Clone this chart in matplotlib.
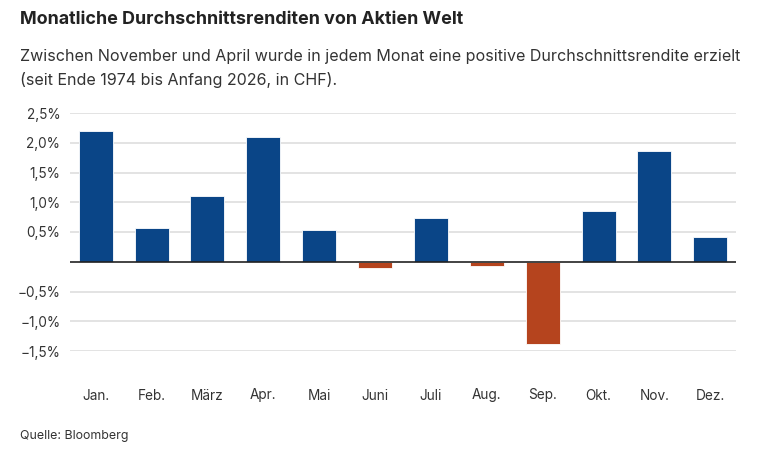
import matplotlib.pyplot as plt
from matplotlib.ticker import FuncFormatter

# ── Data: average monthly returns, Aktien Welt (CHF), in % ──
months = ["Jan.", "Feb.", "März", "Apr.", "Mai", "Juni",
          "Juli", "Aug.", "Sep.", "Okt.", "Nov.", "Dez."]
returns = [2.20, 0.57, 1.11, 2.10, 0.53, -0.10,
           0.74, -0.07, -1.38, 0.85, 1.86, 0.41]
y_ticks = [-1.5, -1.0, -0.5, 0.5, 1.0, 1.5, 2.0, 2.5]

BLUE = "#0A4587"
ORANGE = "#B5441E"
TEXT = "#333333"

plt.rcParams["font.family"] = ["Inter", "DejaVu Sans"]

fig = plt.figure(figsize=(7.6, 4.63), dpi=100)
ax = fig.add_axes([70 / 760, 1 - 351 / 463, 666 / 760, 238 / 463])

colours = [BLUE if r >= 0 else ORANGE for r in returns]
ax.bar(range(len(months)), returns, width=0.61, color=colours,
       edgecolor="white", linewidth=0.6, zorder=3)

# gridlines + zero line
for t in y_ticks:
    ax.axhline(t, color="#e0e0e0", linewidth=1.3, zorder=1)
ax.axhline(0, color="#222222", linewidth=1.2, zorder=4)

ax.set_xlim(-0.46, len(months) - 0.54)
ax.set_ylim(-1.5, 2.5)
ax.set_yticks(y_ticks)
ax.yaxis.set_major_formatter(
    FuncFormatter(lambda v, _: f"{v:.1f}%".replace(".", ",").replace("-", "\u2212")))
ax.set_xticks(range(len(months)))
ax.set_xticklabels(months)

for s in ax.spines.values():
    s.set_visible(False)
ax.tick_params(axis="both", length=0, labelsize=9.8, colors=TEXT)
ax.tick_params(axis="x", pad=27)
ax.tick_params(axis="y", pad=7)

# titles and source
fig.text(20 / 760, 1 - 20 / 463, "Monatliche Durchschnittsrenditen von Aktien Welt",
         fontsize=12.9, fontweight="bold", color="#222222", va="center")
fig.text(20 / 760, 1 - 57 / 463,
         "Zwischen November und April wurde in jedem Monat eine positive Durchschnittsrendite erzielt",
         fontsize=11.55, color=TEXT, va="center")
fig.text(20 / 760, 1 - 80 / 463, "(seit Ende 1974 bis Anfang 2026, in CHF).",
         fontsize=11.55, color=TEXT, va="center")
fig.text(20 / 760, 1 - 436 / 463, "Quelle: Bloomberg", fontsize=8.9, color=TEXT, va="center")

plt.savefig("out.png", dpi=100)
